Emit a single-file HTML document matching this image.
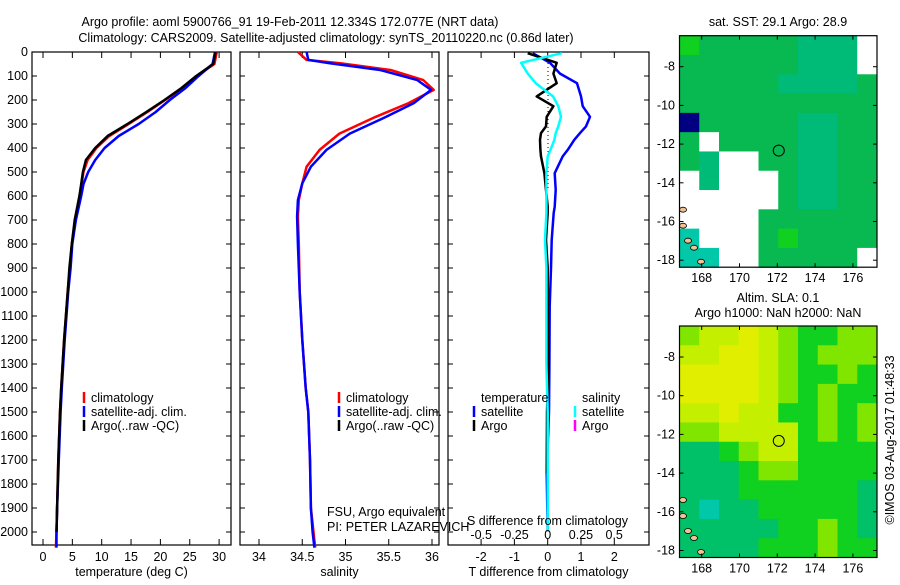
<!DOCTYPE html>
<html><head><meta charset="utf-8"><style>
body{margin:0;background:#fff;width:900px;height:580px;overflow:hidden}
svg text{font-family:"Liberation Sans",sans-serif;font-size:12.5px;fill:#000}
</style></head><body>
<svg id="fig" width="900" height="580" viewBox="0 0 900 580" xmlns="http://www.w3.org/2000/svg">
<text x="290" y="26" text-anchor="middle" font-size="14.2">Argo profile: aoml 5900766_91 19-Feb-2011 12.334S 172.077E (NRT data)</text>
<text x="326" y="42" text-anchor="middle" font-size="14.2">Climatology: CARS2009. Satellite-adjusted climatology: synTS_20110220.nc (0.86d later)</text>
<text x="778" y="26" text-anchor="middle">sat. SST: 29.1 Argo: 28.9</text>
<text x="778" y="302" text-anchor="middle">Altim. SLA: 0.1</text>
<text x="778" y="317" text-anchor="middle">Argo h1000: NaN h2000: NaN</text>
<text transform="translate(894,440) rotate(-90)" text-anchor="middle">©IMOS 03-Aug-2017 01:48:33</text>
<g id="g"></g>
</svg>
<script>
// ---- data ----
const tDepth = [0,50,100,150,200,250,300,350,400,450,500,550,600,700,800,900,1000,1200,1400,1500,1700,1900,2000,2065];
const tClim  = [29.6,29.2,26.2,23.8,20.8,17.8,14.6,11.3,9.1,7.6,6.9,6.6,6.3,5.5,4.9,4.6,4.2,3.6,3.1,2.9,2.6,2.4,2.3,2.2];
const tSat   = [29.3,28.9,26.5,24.3,21.6,19.2,16.3,12.9,10.5,8.9,7.7,6.9,6.5,5.6,5.0,4.7,4.3,3.7,3.2,3.0,2.7,2.4,2.3,2.3];
const tArgo  = [29.4,29.0,26.1,23.6,20.7,17.6,14.4,11.0,8.9,7.3,6.8,6.5,6.2,5.4,4.9,4.5,4.2,3.6,3.1,2.9,2.6,2.4,2.3];
const sDepth = [0,33,47,75,117,158,213,270,340,408,478,547,617,686,800,1000,1200,1400,1500,1700,1900,2000,2065];
const sClim  = [34.45,34.55,34.94,35.52,35.90,36.02,35.73,35.35,34.93,34.70,34.55,34.50,34.46,34.45,34.46,34.47,34.50,34.54,34.57,34.59,34.60,34.63,34.65];
const sSat   = [34.55,34.57,34.82,35.40,35.83,35.99,35.79,35.47,35.05,34.78,34.60,34.50,34.45,34.44,34.45,34.47,34.50,34.54,34.57,34.59,34.60,34.62,34.64];
const dDepth  = [5,45,90,130,185,226,270,310,338,366,408,435,505,574,645,670,783,900,1060,1300,1500,1755,2000];
const dTSat   = [-0.45,0.07,0.37,0.88,1.0,1.05,1.27,1.15,0.97,0.8,0.6,0.45,0.21,0.24,0.21,0.18,0.12,0.1,0.06,0.05,0.04,-0.03,0];
const dTArgo  = [-0.6,0.27,0.17,0.27,-0.33,0.17,-0.03,-0.05,-0.2,-0.23,-0.22,-0.2,-0.1,-0.05,0,0,-0.05,0,0,0.02,-0.02,-0.03];
const dSSat   = [0.105,-0.2,-0.15,-0.09,0.04,0.08,0.1,0.08,0.06,0.05,0.02,0.0,-0.01,-0.01,-0.01,-0.01,-0.02,-0.01,-0.01,-0.01,0,0,0];
const depthTicks = [0,100,200,300,400,500,600,700,800,900,1000,1100,1200,1300,1400,1500,1600,1700,1800,1900,2000];
const tTicks = [0,5,10,15,20,25,30];
const sTicks = [34,34.5,35,35.5,36];
const sTickLabels = ["34","34.5","35","35.5","36"];
const dTTicks = [-2,-1,0,1,2];
const dSTicks = [-0.5,-0.25,0,0.25,0.5];
const lonTicks = [168,170,172,174,176];
const latTicks = [-8,-10,-12,-14,-16,-18];
const sstGrid = [
"3111112220","1111112220","1111122221","1111111111",
"5111112211","1011112211","1200112211","0200012211",
"0000012211","0000111111","4000131111","4400111110"];
const slaGrid = [
"8776783388","7766783888","6666783383","6666783833",
"7767733838","8877773838","9938773333","9993883333",
"9993333339","9499333339","9999933839","9999333833"];
const palette = {"0":"#ffffff","1":"#08b850","2":"#00ba78","3":"#10d020","4":"#00c8a8","5":"#000080","6":"#e2ee00","7":"#c4f000","8":"#80e600","9":"#00c068"};
const argoLon = 172.077, argoLat = -12.334;

// ---- helpers ----
const NS="http://www.w3.org/2000/svg", G=document.getElementById('g');
function el(tag, attrs, parent){const e=document.createElementNS(NS,tag);for(const k in attrs)e.setAttribute(k,attrs[k]);(parent||G).appendChild(e);return e;}
const yD = d => 52 + d*0.24;
function panel(name,x0,x1,xf,ticks,labels,title){
  const b=el('rect',{x:x0,y:52,width:x1-x0,height:493,fill:'none',stroke:'#000','stroke-width':1.2});
  
  
  ticks.forEach((t,i)=>{const x=xf(t);
    el('line',{x1:x,x2:x,y1:545,y2:539,stroke:'#000'});el('line',{x1:x,x2:x,y1:52,y2:58,stroke:'#000'});
    if(labels){const tx=el('text',{x:x,y:561,'text-anchor':'middle'});tx.textContent=labels[i];
      
      }
  });
  depthTicks.forEach(d=>{const y=yD(d);el('line',{x1:x0,x2:x0+5,y1:y,y2:y,stroke:'#000'});el('line',{x1:x1,x2:x1-5,y1:y,y2:y,stroke:'#000'});});
  if(title){const t=el('text',{x:(x0+x1)/2,y:576,'text-anchor':'middle'});t.textContent=title;
    
    }
}
function line(xs,ds,xf,color,w,name){
  const n=Math.min(xs.length,ds.length);let p='';
  for(let i=0;i<n;i++)p+=(i?'L':'M')+xf(xs[i]).toFixed(1)+','+yD(ds[i]).toFixed(1);
  const e=el('path',{d:p,fill:'none',stroke:color,'stroke-width':w,'stroke-linejoin':'round'});
  
  
}
function legend(x,y,color,label,name){
  el('line',{x1:x,x2:x,y1:y-10,y2:y+1,stroke:color,'stroke-width':2.5});
  const t=el('text',{x:x+7,y:y});t.textContent=label;
  
  
}

// depth labels
depthTicks.forEach(d=>{const t=el('text',{x:28,y:yD(d)+4,'text-anchor':'end'});t.textContent=d;
  
  });

// panel 1 temperature
const xT = v => 43 + v*5.87;
panel('temperature-panel',32,231,xT,tTicks,tTicks.map(String),'temperature (deg C)');
line(tClim,tDepth,xT,'#f00',2.5,'temperature-climatology-line');
line(tSat,tDepth,xT,'#00f',2.5,'temperature-satellite-line');
line(tArgo,tDepth,xT,'#000',2.5,'temperature-argo-line');
legend(84,402,'#f00','climatology','legend-climatology');
legend(84,416,'#00f','satellite-adj. clim.','legend-satellite');
legend(84,430,'#000','Argo(..raw -QC)','legend-argo');

// panel 2 salinity
const xS = v => 259 + (v-34)*86.5;
panel('salinity-panel',240,439,xS,sTicks,sTickLabels,'salinity');
line(sClim,sDepth,xS,'#f00',2.5,'salinity-climatology-line');
line(sSat,sDepth,xS,'#00f',2.5,'salinity-satellite-line');
legend(339,402,'#f00','climatology','legend2-climatology');
legend(339,416,'#00f','satellite-adj. clim.','legend2-satellite');
legend(339,430,'#000','Argo(..raw -QC)','legend2-argo');
[['FSU, Argo equivalent',516,'float-institution'],['PI: PETER LAZAREVICH',531,'float-pi']].forEach(a=>{
  const t=el('text',{x:327,y:a[1]});t.textContent=a[0];
  
  });

// panel 3 differences
const xDT = v => 547.7 + v*33.3;
const xDS = v => 547.7 + v*133;
panel('difference-panel',448,649,xDT,dTTicks,dTTicks.map(String),'T difference from climatology');
el('line',{x1:548,x2:548,y1:55,y2:190,stroke:'#000','stroke-dasharray':'1,3'});
line(dTSat,dDepth,xDT,'#00f',2.5,'t-diff-satellite-line');
line(dTArgo,dDepth,xDT,'#000',2.5,'t-diff-argo-line');
line(dSSat,dDepth,xDS,'#0ff',2.5,'s-diff-satellite-line');
dSTicks.forEach(v=>{const t=el('text',{x:xDS(v),y:539,'text-anchor':'middle'});t.textContent=String(v);
  
  });
{const t=el('text',{x:467,y:525});t.textContent='S difference from climatology';
  
  }
[['temperature',481,402],['salinity',582,402]].forEach(a=>{const t=el('text',{x:a[1],y:a[2]});t.textContent=a[0];
  
  });
legend(474,416,'#00f','satellite','legend3-t-satellite');
legend(474,430,'#000','Argo','legend3-t-argo');
legend(575,416,'#0ff','satellite','legend3-s-satellite');
legend(575,430,'#f0f','Argo','legend3-s-argo');

// maps
const xL = lon => 701.7 + (lon-168)*18.9;
function map(name,grid,top){
  const yL = lat => top+31 + (-8-lat)*19.35;
  const x0=679.5,x1=877,y1=top+231.5,rows=grid.length,cols=grid[0].length;
  const cw=(x1-x0)/cols,ch=(y1-top)/rows;
  grid.forEach((row,r)=>row.split('').forEach((c,k)=>{
    const e=el('rect',{x:x0+k*cw,y:top+r*ch,width:cw+0.5,height:ch+0.5,fill:palette[c]});
    
    
  }));
  [[683,top+174],[683,top+190],[688,top+205],[694,top+212],[701,top+226]].forEach(p=>{
    const e=el('ellipse',{cx:p[0],cy:p[1],rx:3.5,ry:2.5,fill:'#f5c090',stroke:'#000','stroke-width':0.8});
    
    });
  const f=el('rect',{x:x0,y:top,width:x1-x0,height:y1-top,fill:'none',stroke:'#000','stroke-width':1.2});
  
  
  const c=el('circle',{cx:xL(argoLon),cy:yL(argoLat),r:5.5,fill:'none',stroke:'#000'});
  
  
  lonTicks.forEach(v=>{const x=xL(v);el('line',{x1:x,x2:x,y1:y1,y2:y1-4,stroke:'#000'});el('line',{x1:x,x2:x,y1:top,y2:top+4,stroke:'#000'});
    const t=el('text',{x:x,y:y1+15,'text-anchor':'middle'});t.textContent=v;
    
    });
  latTicks.forEach(v=>{const y=yL(v);el('line',{x1:x0,x2:x0+4,y1:y,y2:y,stroke:'#000'});el('line',{x1:x1,x2:x1-4,y1:y,y2:y,stroke:'#000'});
    const t=el('text',{x:675,y:y+4,'text-anchor':'end'});t.textContent=v;
    
    });
}
map('sst-map',sstGrid,35.7);
map('sla-map',slaGrid,326);
</script>
</body></html>
